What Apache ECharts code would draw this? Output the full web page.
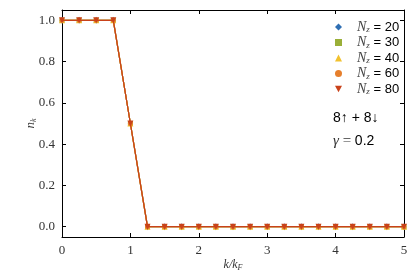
<!DOCTYPE html>
<html><head><meta charset="utf-8">
<script src="https://cdn.jsdelivr.net/npm/echarts@6/dist/echarts.min.js"></script>
<style>html,body{margin:0;padding:0;background:#fff}#c{width:415px;height:277px}</style>
</head><body><div id="c"></div>
<script>
var kValues = [0,0.25,0.5,0.75,1,1.25,1.5,1.75,2,2.25,2.5,2.75,3,3.25,3.5,3.75,4,4.25,4.5,4.75,5];
var nk20 = [1,1,1,1,0.5,0,0,0,0,0,0,0,0,0,0,0,0,0,0,0,0];
var nk30 = [1,1,1,1,0.5,0,0,0,0,0,0,0,0,0,0,0,0,0,0,0,0];
var nk40 = [1,1,1,1,0.5,0,0,0,0,0,0,0,0,0,0,0,0,0,0,0,0];
var nk60 = [1,1,1,1,0.5,0,0,0,0,0,0,0,0,0,0,0,0,0,0,0,0];
var nk80 = [1,1,1,1,0.5,0,0,0,0,0,0,0,0,0,0,0,0,0,0,0,0];
var seriesNames = ['20','30','40','60','80'];
var xTicks = [0,1,2,3,4,5];
var yTicks = [0,0.2,0.4,0.6,0.8,1.0];

var allData = [nk20,nk30,nk40,nk60,nk80];
var colors = ['#2f6fb3','#9aaf38','#f2c12e','#e67f2c','#c9421a'];
var symbols = ['diamond','rect','triangle','circle','path://M0,0 L10,0 L5,9 Z'];
var sizes = [[4,7],5,6,5,6];
var serif = 'Liberation Serif';

var chart = echarts.init(document.getElementById('c'), null, {renderer:'canvas'});
var series = allData.map(function(arr,i){
  return {
    name: seriesNames[i], type:'line',
    data: kValues.map(function(k,j){return [k,arr[j]];}),
    symbol: symbols[i], symbolSize: sizes[i], showSymbol:true,
    itemStyle:{color:colors[i]},
    lineStyle:{color:colors[i], width:1.2},
    emphasis:{disabled:true}, animation:false, z: 2+i
  };
});
var axisLineStyle = {show:true, onZero:false, lineStyle:{color:'#000', width:1}};
var tickStyle = function(vals){return {show:true, inside:true, length:4, customValues:vals, lineStyle:{color:'#000'}};};
chart.setOption({
  animation:false,
  grid:{left:62, right:11, top:10, bottom:34},
  legend:{
    orient:'vertical', left:330, top:15, itemGap:1, itemWidth:7, itemHeight:7,
    data: seriesNames.map(function(n,i){return {name:n, icon: symbols[i]};}),
    formatter: function(n){return '{i|N}{s|z}{n| = '+n+'}';},
    textStyle:{
      color:'#000', fontSize:13,
      rich:{
        i:{fontFamily:serif, fontStyle:'italic', fontSize:14, color:'#444', padding:[0,0,0,10], lineHeight:14},
        s:{fontFamily:serif, fontStyle:'italic', fontSize:9, verticalAlign:'bottom', padding:[6,0,0,0], color:'#444'},
        n:{fontFamily:'Liberation Sans', fontSize:13, color:'#000', lineHeight:14}
      }
    }
  },
  xAxis:[{
    type:'value', min:0, max:5, position:'bottom',
    axisLine:axisLineStyle, splitLine:{show:false},
    axisTick:tickStyle(xTicks),
    axisLabel:{customValues:xTicks, fontFamily:serif, fontSize:13, color:'#333', margin:7},
    name:'{i|k/k}{s|F}', nameLocation:'middle', nameGap:21, nameMoveOverlap:false,
    nameTextStyle:{rich:{
      i:{fontFamily:serif, fontStyle:'italic', fontSize:12, color:'#333'},
      s:{fontFamily:serif, fontStyle:'italic', fontSize:8, padding:[6,0,0,0], color:'#333'}
    }}
  },{
    type:'value', min:0, max:5, position:'top',
    axisLine:axisLineStyle, splitLine:{show:false},
    axisTick:tickStyle(xTicks),
    axisLabel:{show:false}
  }],
  yAxis:[{
    type:'value', min:-0.05, max:1.05, position:'left',
    axisLine:axisLineStyle, splitLine:{show:false},
    axisTick:tickStyle(yTicks),
    axisLabel:{customValues:yTicks, fontFamily:serif, fontSize:13, color:'#333', margin:7,
      formatter:function(v){return v.toFixed(1);}},
    name:'{i|n}{s|k}', nameLocation:'middle', nameGap:24, nameRotate:90, nameMoveOverlap:false,
    nameTextStyle:{rich:{
      i:{fontFamily:serif, fontStyle:'italic', fontSize:13, color:'#333'},
      s:{fontFamily:serif, fontStyle:'italic', fontSize:8, padding:[6,0,0,0], color:'#333'}
    }}
  },{
    type:'value', min:-0.05, max:1.05, position:'right',
    axisLine:axisLineStyle, splitLine:{show:false},
    axisTick:tickStyle(yTicks),
    axisLabel:{show:false}
  }],
  graphic:[
    {type:'text', left:333, top:111, style:{text:'8↑ + 8↓', font:'14px "Liberation Sans"', fill:'#000'}},
    {type:'text', left:333, top:134, style:{
      text:'{g|γ}{e| = }{n|0.2}',
      rich:{
        g:{fontFamily:serif, fontStyle:'italic', fontSize:15, fill:'#333'},
        e:{fontFamily:serif, fontSize:15, fill:'#333'},
        n:{fontFamily:'Liberation Sans', fontSize:14, fill:'#000'}
      }}}
  ],
  series: series
});
</script></body></html>
